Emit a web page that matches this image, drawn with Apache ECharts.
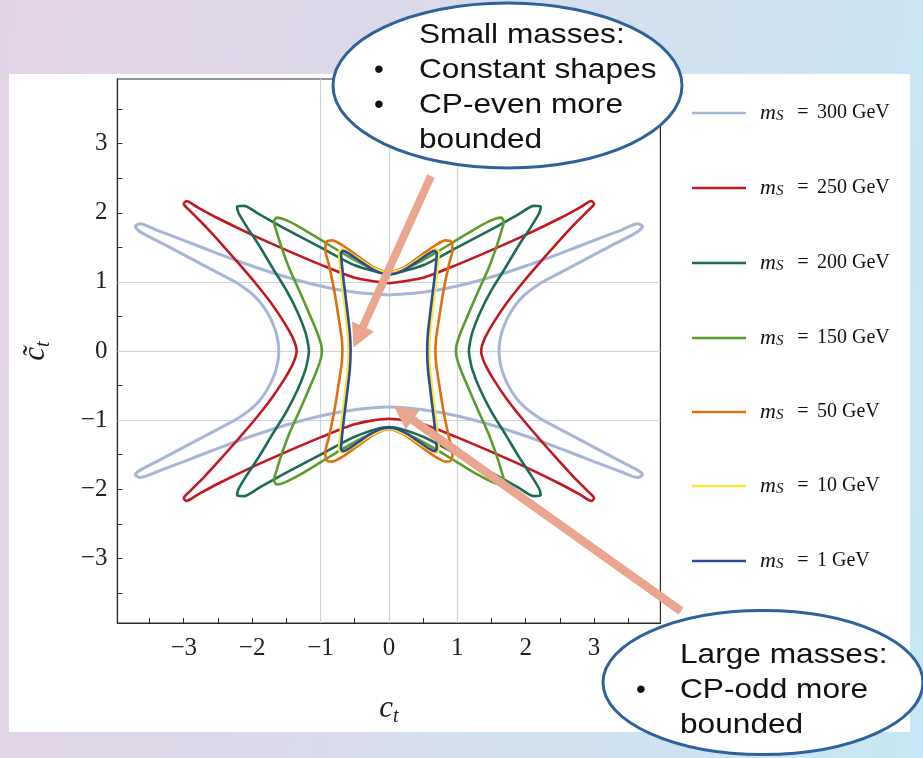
<!DOCTYPE html>
<html><head><meta charset="utf-8">
<script src="https://cdn.jsdelivr.net/npm/echarts@6/dist/echarts.min.js"></script>
<style>
html,body{margin:0;padding:0;width:923px;height:758px;overflow:hidden;}
body{background:linear-gradient(100deg,#e4d3e6 0%,#dcd9ea 35%,#d3e0ef 60%,#c6e7f5 100%);}
#panel{position:absolute;left:9px;top:74px;width:901px;height:658px;background:#fff;}
#chart{position:absolute;left:0;top:0;width:923px;height:758px;}
</style></head>
<body><div id="panel"></div><div id="chart"></div>
<script>
// ---- data ----
const massLabels = ['300', '250', '200', '150', '50', '10', '1'];
const xTickValues = [-3.5,-3,-2.5,-2,-1.5,-1,-0.5,0,0.5,1,1.5,2,2.5,3,3.5];
const yTickValues = [-3.5,-3,-2.5,-2,-1.5,-1,-0.5,0,0.5,1,1.5,2,2.5,3,3.5];
const xLabelValues = [-3,-2,-1,0,1,2,3];
const yLabelValues = [-3,-2,-1,0,1,2,3];
const gridLineValues = [-1,0,1];

const ms300 = [
[0,0.81],[-0.5,0.85],[-1.0,0.94],[-1.5,1.07],[-2.0,1.23],[-2.5,1.41],[-3.0,1.60],[-3.4,1.75],[-3.64,1.84],[-3.71,1.80],[-3.63,1.72],[-3.3,1.55],[-2.9,1.34],[-2.5,1.13],[-2.2,0.97],[-1.95,0.78],[-1.78,0.56],[-1.67,0.33],[-1.62,0.13],[-1.61,0],
[-1.62,-0.13],[-1.67,-0.33],[-1.78,-0.56],[-1.95,-0.78],[-2.2,-0.97],[-2.5,-1.13],[-2.9,-1.34],[-3.3,-1.55],[-3.63,-1.72],[-3.71,-1.79],[-3.64,-1.83],[-3.4,-1.75],[-3.0,-1.60],[-2.5,-1.41],[-2.0,-1.23],[-1.5,-1.07],[-1.0,-0.94],[-0.5,-0.85],[0,-0.81],
[0.5,-0.85],[1.0,-0.94],[1.5,-1.07],[2.0,-1.23],[2.5,-1.41],[3.0,-1.60],[3.4,-1.75],[3.64,-1.83],[3.71,-1.79],[3.63,-1.72],[3.3,-1.55],[2.9,-1.34],[2.5,-1.13],[2.2,-0.97],[1.95,-0.78],[1.78,-0.56],[1.67,-0.33],[1.62,-0.13],[1.61,0],
[1.62,0.13],[1.67,0.33],[1.78,0.56],[1.95,0.78],[2.2,0.97],[2.5,1.13],[2.9,1.34],[3.3,1.55],[3.63,1.72],[3.71,1.80],[3.64,1.84],[3.4,1.75],[3.0,1.60],[2.5,1.41],[2.0,1.23],[1.5,1.07],[1.0,0.94],[0.5,0.85],[0,0.81]
];
const ms250 = [
[0,0.98],[-0.5,1.06],[-1.0,1.25],[-1.5,1.46],[-2.0,1.68],[-2.5,1.92],[-2.8,2.08],[-2.96,2.17],[-3.0,2.13],[-2.9,2.02],[-2.7,1.82],[-2.45,1.55],[-2.2,1.27],[-1.95,0.98],[-1.72,0.69],[-1.53,0.41],[-1.41,0.2],[-1.36,0.07],[-1.35,0],
[-1.36,-0.07],[-1.41,-0.2],[-1.53,-0.41],[-1.72,-0.69],[-1.95,-0.98],[-2.2,-1.27],[-2.45,-1.55],[-2.7,-1.82],[-2.9,-2.02],[-3.0,-2.13],[-2.96,-2.17],[-2.8,-2.08],[-2.5,-1.92],[-2.0,-1.68],[-1.5,-1.46],[-1.0,-1.25],[-0.5,-1.06],[0,-0.98],
[0.5,-1.06],[1.0,-1.25],[1.5,-1.46],[2.0,-1.68],[2.5,-1.92],[2.8,-2.08],[2.96,-2.17],[3.0,-2.13],[2.9,-2.02],[2.7,-1.82],[2.45,-1.55],[2.2,-1.27],[1.95,-0.98],[1.72,-0.69],[1.53,-0.41],[1.41,-0.2],[1.36,-0.07],[1.35,0],
[1.36,0.07],[1.41,0.2],[1.53,0.41],[1.72,0.69],[1.95,0.98],[2.2,1.27],[2.45,1.55],[2.7,1.82],[2.9,2.02],[3.0,2.13],[2.96,2.17],[2.8,2.08],[2.5,1.92],[2.0,1.68],[1.5,1.46],[1.0,1.25],[0.5,1.06],[0,0.98]
];
const ms200 = [
[0,1.10],[-0.5,1.24],[-1.0,1.50],[-1.5,1.76],[-1.9,1.98],[-2.12,2.10],[-2.22,2.09],[-2.2,2.0],[-2.08,1.80],[-1.9,1.53],[-1.7,1.20],[-1.5,0.88],[-1.33,0.55],[-1.22,0.27],[-1.18,0.09],[-1.17,0],
[-1.18,-0.09],[-1.22,-0.27],[-1.33,-0.55],[-1.5,-0.88],[-1.7,-1.20],[-1.9,-1.53],[-2.08,-1.80],[-2.2,-2.0],[-2.22,-2.09],[-2.12,-2.10],[-1.9,-1.98],[-1.5,-1.76],[-1.0,-1.50],[-0.5,-1.24],[0,-1.10],
[0.5,-1.24],[1.0,-1.50],[1.5,-1.76],[1.9,-1.98],[2.12,-2.10],[2.22,-2.09],[2.2,-2.0],[2.08,-1.80],[1.9,-1.53],[1.7,-1.20],[1.5,-0.88],[1.33,-0.55],[1.22,-0.27],[1.18,-0.09],[1.17,0],
[1.18,0.09],[1.22,0.27],[1.33,0.55],[1.5,0.88],[1.7,1.20],[1.9,1.53],[2.08,1.80],[2.2,2.0],[2.22,2.09],[2.12,2.10],[1.9,1.98],[1.5,1.76],[1.0,1.50],[0.5,1.24],[0,1.10]
];
const ms150 = [
[0,1.12],[-0.35,1.24],[-0.7,1.43],[-1.0,1.61],[-1.3,1.79],[-1.52,1.90],[-1.64,1.93],[-1.68,1.87],[-1.64,1.72],[-1.57,1.50],[-1.45,1.18],[-1.30,0.85],[-1.16,0.53],[-1.05,0.27],[-0.99,0.09],[-0.98,0],
[-0.99,-0.09],[-1.05,-0.27],[-1.16,-0.53],[-1.30,-0.85],[-1.45,-1.18],[-1.57,-1.50],[-1.64,-1.72],[-1.68,-1.87],[-1.64,-1.93],[-1.52,-1.90],[-1.3,-1.79],[-1.0,-1.61],[-0.7,-1.43],[-0.35,-1.24],[0,-1.12],
[0.35,-1.24],[0.7,-1.43],[1.0,-1.61],[1.3,-1.79],[1.52,-1.90],[1.64,-1.93],[1.68,-1.87],[1.64,-1.72],[1.57,-1.50],[1.45,-1.18],[1.30,-0.85],[1.16,-0.53],[1.05,-0.27],[0.99,-0.09],[0.98,0],
[0.99,0.09],[1.05,0.27],[1.16,0.53],[1.30,0.85],[1.45,1.18],[1.57,1.50],[1.64,1.72],[1.68,1.87],[1.64,1.93],[1.52,1.90],[1.3,1.79],[1.0,1.61],[0.7,1.43],[0.35,1.24],[0,1.12]
];
const ms50 = [
[0,1.13],[-0.22,1.21],[-0.45,1.37],[-0.68,1.53],[-0.83,1.60],[-0.91,1.58],[-0.93,1.46],[-0.88,1.26],[-0.80,0.88],[-0.73,0.45],[-0.69,0.18],[-0.68,0],
[-0.69,-0.18],[-0.73,-0.45],[-0.80,-0.88],[-0.88,-1.26],[-0.93,-1.46],[-0.91,-1.58],[-0.83,-1.60],[-0.68,-1.53],[-0.45,-1.37],[-0.22,-1.21],[0,-1.13],
[0.22,-1.21],[0.45,-1.37],[0.68,-1.53],[0.83,-1.60],[0.91,-1.58],[0.93,-1.46],[0.88,-1.26],[0.80,-0.88],[0.73,-0.45],[0.69,-0.18],[0.68,0],
[0.69,0.18],[0.73,0.45],[0.80,0.88],[0.88,1.26],[0.93,1.46],[0.91,1.58],[0.83,1.60],[0.68,1.53],[0.45,1.37],[0.22,1.21],[0,1.13]
];
const ms10 = [
[0,1.12],[-0.25,1.21],[-0.45,1.34],[-0.62,1.44],[-0.69,1.47],[-0.73,1.43],[-0.72,1.30],[-0.69,1.0],[-0.64,0.6],[-0.60,0.25],[-0.59,0],
[-0.60,-0.25],[-0.64,-0.6],[-0.69,-1.0],[-0.72,-1.30],[-0.73,-1.43],[-0.69,-1.47],[-0.62,-1.44],[-0.45,-1.34],[-0.25,-1.21],[0,-1.12],
[0.25,-1.21],[0.45,-1.34],[0.62,-1.44],[0.69,-1.47],[0.73,-1.43],[0.72,-1.30],[0.69,-1.0],[0.64,-0.6],[0.60,-0.25],[0.59,0],
[0.60,0.25],[0.64,0.6],[0.69,1.0],[0.72,1.30],[0.73,1.43],[0.69,1.47],[0.62,1.44],[0.45,1.34],[0.25,1.21],[0,1.12]
];
const ms1 = [
[0,1.11],[-0.12,1.13],[-0.27,1.20],[-0.45,1.32],[-0.60,1.42],[-0.67,1.45],[-0.70,1.41],[-0.69,1.28],[-0.66,1.0],[-0.61,0.6],[-0.57,0.25],[-0.56,0],
[-0.57,-0.25],[-0.61,-0.6],[-0.66,-1.0],[-0.69,-1.28],[-0.70,-1.41],[-0.67,-1.45],[-0.60,-1.42],[-0.45,-1.32],[-0.27,-1.20],[-0.12,-1.13],[0,-1.11],
[0.12,-1.13],[0.27,-1.20],[0.45,-1.32],[0.60,-1.42],[0.67,-1.45],[0.70,-1.41],[0.69,-1.28],[0.66,-1.0],[0.61,-0.6],[0.57,-0.25],[0.56,0],
[0.57,0.25],[0.61,0.6],[0.66,1.0],[0.69,1.28],[0.70,1.41],[0.67,1.45],[0.60,1.42],[0.45,1.32],[0.27,1.20],[0.12,1.13],[0,1.11]
];
const curves = [ms300, ms250, ms200, ms150, ms50, ms10, ms1];

// ---- styles ----
const colors = ['#a7b6d6', '#c2181f', '#1d6b56', '#5c9c2c', '#e0700f', '#f3ea3a', '#2e4a97'];
const legendCenters = [113, 188, 263, 338, 412, 486, 561];
const serif = '"Liberation Serif", "DejaVu Serif", serif';
const sans = '"Liberation Sans", Arial, sans-serif';

const chart = echarts.init(document.getElementById('chart'), null, {renderer: 'canvas'});

const seriesNames = massLabels.map(m => m + ' GeV');
const series = curves.map((d, i) => ({
  type: 'line', name: seriesNames[i], data: d, showSymbol: false, symbol: 'none',
  smooth: 0.25, z: 3, silent: true, animation: false,
  lineStyle: {color: colors[i], width: i === 0 ? 3 : 2.6},
  itemStyle: {color: colors[i]}
}));
series.unshift({
  type: 'line', name: 'grid', data: [[0,0]], showSymbol: false, symbol: 'none',
  lineStyle: {opacity: 0}, silent: true, animation: false, z: 1,
  markLine: {
    silent: true, symbol: 'none', animation: false, z: 1,
    label: {show: false},
    lineStyle: {color: '#d2d2d2', width: 1.2, type: 'solid'},
    data: gridLineValues.map(v => ({xAxis: v})).concat(gridLineValues.map(v => ({yAxis: v})))
  }
});

const legendRich = {
  m: {fontFamily: serif, fontStyle: 'italic', fontSize: 22, width: 16, lineHeight: 22, color: '#111'},
  s: {fontFamily: serif, fontStyle: 'italic', fontSize: 15, width: 13, lineHeight: 12, verticalAlign: 'bottom', color: '#111'},
  e: {fontFamily: serif, fontSize: 20, width: 28, align: 'center', lineHeight: 22, color: '#111'},
  n: {fontFamily: serif, fontSize: 20, lineHeight: 22, color: '#111'}
};
const legends = seriesNames.map((name, i) => ({
  data: [name], left: 692, top: legendCenters[i] - 11, orient: 'vertical',
  icon: 'rect', itemWidth: 54, itemHeight: 2.5, selectedMode: false,
  padding: 0,
  textStyle: {rich: legendRich, padding: [0, 0, 0, 9]},
  formatter: n => '{m|m}{s|S}{e|=}{n|' + n + '}'
}));

const minusFmt = v => (v < 0 ? '\u2212' + Math.abs(v) : String(v));

function arrow(x1, y1, x2, y2, w, hl, hw) {
  const dx = x2 - x1, dy = y2 - y1, L = Math.hypot(dx, dy);
  const ux = dx / L, uy = dy / L, nx = -uy, ny = ux;
  const bx = x2 - ux * hl, by = y2 - uy * hl;
  const col = '#e9a58e';
  return [
    {type: 'line', z: 50, silent: true, shape: {x1: x1, y1: y1, x2: bx + ux * 2, y2: by + uy * 2}, style: {stroke: col, lineWidth: w}},
    {type: 'polygon', z: 50, silent: true, shape: {points: [[x2, y2], [bx + nx * hw, by + ny * hw], [bx - nx * hw, by - ny * hw]]}, style: {fill: col}}
  ];
}
function txt(x, y, s, align) {
  return {type: 'text', z: 110, silent: true, x: x, y: y, scaleX: align ? 1 : 1.13, scaleY: 1,
    style: {text: s, font: '28px ' + sans, fill: '#111', align: align || 'left', verticalAlign: 'middle',
            textAlign: align || 'left', textVerticalAlign: 'middle'}};
}

const graphics = []
  .concat(arrow(431, 176, 353.5, 347.5, 8, 23, 12))
  .concat(arrow(681, 611, 394, 406.5, 8.5, 23, 12))
  .concat([
    {type: 'ellipse', z: 100, silent: true, shape: {cx: 507.5, cy: 85.5, rx: 174.5, ry: 82.5}, style: {fill: '#fff', stroke: '#2f629c', lineWidth: 3}},
    {type: 'ellipse', z: 100, silent: true, shape: {cx: 763, cy: 682.5, rx: 160, ry: 72}, style: {fill: '#fff', stroke: '#2f629c', lineWidth: 3}},
    txt(419, 35, 'Small masses:'),
    txt(379, 70, '\u2022', 'center'),
    txt(419, 70, 'Constant shapes'),
    txt(379, 105, '\u2022', 'center'),
    txt(419, 105, 'CP-even more'),
    txt(419, 140, 'bounded'),
    txt(680, 655, 'Large masses:'),
    txt(641, 690, '\u2022', 'center'),
    txt(680, 690, 'CP-odd more'),
    txt(680, 725, 'bounded')
  ]);

const option = {
  backgroundColor: 'transparent',
  animation: false,
  grid: {left: 117.4, top: 79, width: 543, height: 544, show: true, borderColor: '#2a2a2a', borderWidth: 1.2, backgroundColor: 'transparent'},
  legend: legends,
  xAxis: {
    type: 'value', min: -3.97, max: 3.97,
    axisLine: {show: true, onZero: false, lineStyle: {color: '#2a2a2a', width: 1.2}},
    axisTick: {show: true, inside: true, length: 5, customValues: xTickValues, lineStyle: {color: '#2a2a2a', width: 1}},
    axisLabel: {customValues: xLabelValues, formatter: minusFmt, fontFamily: serif, fontSize: 25, color: '#222', margin: 13},
    splitLine: {show: false},
    name: '{c|c}{t|t}', nameLocation: 'middle', nameGap: 68,
    nameTextStyle: {rich: {
      c: {fontFamily: serif, fontStyle: 'italic', fontSize: 31, lineHeight: 36, color: '#222'},
      t: {fontFamily: serif, fontStyle: 'italic', fontSize: 20, lineHeight: 22, verticalAlign: 'bottom', color: '#222'}
    }}
  },
  yAxis: {
    type: 'value', min: -3.935, max: 3.935,
    axisLine: {show: true, onZero: false, lineStyle: {color: '#2a2a2a', width: 1.2}},
    axisTick: {show: true, inside: true, length: 5, customValues: yTickValues, lineStyle: {color: '#2a2a2a', width: 1}},
    axisLabel: {customValues: yLabelValues, formatter: minusFmt, fontFamily: serif, fontSize: 25, color: '#222', margin: 10},
    splitLine: {show: false},
    name: '{c|c\u0303}{t|t}', nameLocation: 'middle', nameGap: 64, nameRotate: 90,
    nameTextStyle: {rich: {
      c: {fontFamily: serif, fontStyle: 'italic', fontSize: 31, lineHeight: 36, color: '#222'},
      t: {fontFamily: serif, fontStyle: 'italic', fontSize: 20, lineHeight: 22, verticalAlign: 'bottom', color: '#222'}
    }}
  },
  series: series,
  graphic: graphics
};
chart.setOption(option);
</script>
</body></html>
